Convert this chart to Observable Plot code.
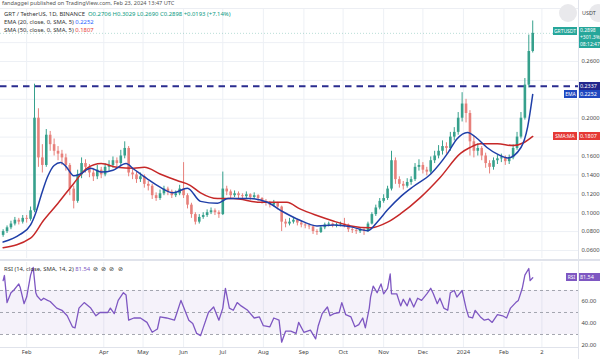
<!DOCTYPE html>
<html><head><meta charset="utf-8">
<script src="https://cdn.jsdelivr.net/npm/d3@7"></script>
<script src="https://cdn.jsdelivr.net/npm/@observablehq/plot@0.6"></script>
<style>
body{margin:0;background:#fff;font-family:"Noto Sans",sans-serif;}
#wrap{position:relative;width:600px;height:359px;overflow:hidden;background:#fff;}
#wrap svg{position:absolute;left:0;}
.t{position:absolute;white-space:nowrap;font-size:5.9px;color:#333;line-height:8px;}
.b{position:absolute;white-space:nowrap;overflow:hidden;font-size:5.4px;color:#fff;text-align:center;}
.ln{position:absolute;background:#e0e3eb;}
</style></head><body><div id="wrap"></div>
<script>
// ---- data (3-day candles starting 2023-01-14) ----
const startDate = "2023-01-14";
const stepDays = 3;
const firstOpen = 0.076;
const close = [0.080,0.084,0.088,0.092,0.090,0.094,0.093,0.102,0.200,0.158,
0.150,0.182,0.172,0.165,0.162,0.158,0.150,0.125,0.112,0.140,
0.152,0.148,0.142,0.138,0.145,0.140,0.148,0.150,0.155,0.152,
0.160,0.168,0.142,0.140,0.135,0.138,0.130,0.128,0.118,0.115,
0.120,0.125,0.122,0.118,0.120,0.125,0.118,0.108,0.098,0.090,
0.095,0.097,0.100,0.102,0.100,0.098,0.125,0.122,0.118,0.120,
0.118,0.117,0.119,0.116,0.118,0.115,0.112,0.110,0.108,0.110,
0.106,0.090,0.088,0.090,0.092,0.089,0.087,0.086,0.085,0.080,
0.079,0.084,0.087,0.088,0.086,0.087,0.088,0.087,0.082,0.081,
0.080,0.082,0.080,0.088,0.098,0.105,0.112,0.115,0.125,0.155,
0.135,0.130,0.128,0.132,0.135,0.148,0.150,0.145,0.143,0.155,
0.160,0.165,0.170,0.168,0.180,0.185,0.200,0.215,0.205,0.175,
0.165,0.168,0.160,0.152,0.148,0.155,0.157,0.158,0.154,0.158,
0.168,0.180,0.200,0.235,0.2706,0.2898];
const high = [0.082,0.086,0.091,0.095,0.094,0.097,0.097,0.106,0.236,0.210,
0.172,0.188,0.186,0.178,0.170,0.166,0.162,0.152,0.128,0.145,
0.158,0.156,0.151,0.146,0.150,0.148,0.152,0.155,0.159,0.158,
0.166,0.175,0.170,0.146,0.143,0.142,0.140,0.133,0.130,0.121,
0.124,0.128,0.127,0.124,0.123,0.129,0.153,0.120,0.110,0.100,
0.098,0.100,0.103,0.105,0.104,0.102,0.143,0.128,0.124,0.123,
0.122,0.120,0.122,0.120,0.121,0.119,0.116,0.114,0.112,0.113,
0.111,0.107,0.093,0.094,0.095,0.093,0.091,0.089,0.088,0.086,
0.082,0.086,0.089,0.090,0.089,0.089,0.090,0.094,0.088,0.084,
0.083,0.084,0.083,0.090,0.100,0.108,0.115,0.119,0.128,0.165,
0.158,0.138,0.133,0.136,0.138,0.152,0.156,0.153,0.148,0.159,
0.165,0.171,0.176,0.174,0.185,0.190,0.206,0.227,0.220,0.208,
0.181,0.173,0.170,0.163,0.155,0.158,0.161,0.162,0.160,0.161,
0.172,0.185,0.206,0.242,0.288,0.3029];
const low = [0.074,0.078,0.082,0.086,0.087,0.088,0.089,0.091,0.100,0.148,
0.142,0.148,0.165,0.160,0.155,0.150,0.144,0.118,0.104,0.110,
0.136,0.142,0.137,0.133,0.135,0.136,0.138,0.144,0.147,0.148,
0.150,0.157,0.138,0.135,0.131,0.132,0.126,0.123,0.114,0.112,
0.113,0.118,0.118,0.115,0.116,0.118,0.115,0.104,0.094,0.087,
0.088,0.093,0.095,0.098,0.097,0.094,0.097,0.118,0.115,0.116,
0.115,0.114,0.115,0.113,0.114,0.112,0.109,0.107,0.105,0.106,
0.103,0.080,0.084,0.086,0.088,0.086,0.084,0.083,0.082,0.077,
0.076,0.078,0.082,0.085,0.084,0.084,0.085,0.084,0.079,0.078,
0.077,0.078,0.076,0.079,0.087,0.096,0.103,0.110,0.113,0.123,
0.130,0.126,0.124,0.126,0.129,0.133,0.144,0.141,0.139,0.141,
0.152,0.157,0.161,0.162,0.165,0.176,0.182,0.196,0.195,0.160,
0.158,0.160,0.155,0.147,0.141,0.145,0.151,0.153,0.150,0.151,
0.156,0.166,0.178,0.198,0.232,0.2690];

// EMA 20 / SMA 50 (days since startDate)
const emaDays = [0,13,21,25,29,34,39,44,48,54,59,67,75,84,94,100,110,120,130,141,151,164,172,189,202,214,227,240,253,266,279,286,294,304,314,327,340,347,355,363,370,378,386,396,401,405];
const emaValues = [0.069,0.077,0.087,0.100,0.118,0.138,0.150,0.153,0.149,0.139,0.141,0.147,0.143,0.145,0.152,0.146,0.136,0.127,0.121,0.126,0.112,0.110,0.115,0.115,0.111,0.101,0.092,0.086,0.087,0.085,0.081,0.090,0.103,0.117,0.128,0.141,0.163,0.178,0.185,0.178,0.169,0.162,0.158,0.169,0.190,0.2252];
const smaDays = [0,21,31,42,54,64,75,87,100,108,120,133,143,151,164,176,197,217,227,240,253,266,281,294,304,319,334,350,357,365,378,390,398,405];
const smaValues = [0.063,0.073,0.092,0.110,0.131,0.147,0.152,0.148,0.147,0.148,0.141,0.134,0.129,0.121,0.115,0.115,0.111,0.111,0.104,0.097,0.091,0.086,0.084,0.090,0.099,0.116,0.137,0.163,0.169,0.173,0.173,0.171,0.174,0.1807];

// RSI 14
const rsiDays = [0,1,3,6,8,12,13,16,18,21,23,25,26,29,31,34,36,41,45,49,53,55,58,62,67,71,74,80,82,85,88,92,94,96,100,105,110,114,118,120,125,131,133,136,138,142,145,148,151,153,157,161,165,168,170,173,176,179,182,187,192,196,199,204,207,211,213,216,220,224,226,230,235,239,241,244,248,250,253,257,259,262,266,269,272,275,277,280,281,283,286,289,291,294,296,297,301,304,306,309,311,314,317,320,324,327,329,332,334,337,340,342,345,347,351,354,356,359,361,365,368,371,374,378,382,385,388,392,394,397,399,402,403,405];
const rsiValues = [79,83.6,59,68,70,76,73,58,64,84,91,68,65,61,63,61,60,54,52,47,37,36,54,59,54,47,50,50,54,49,61,68,66,43,45,45,41,32,35,46,45,43,50,61,55,43,40,31,29,36,50,55,43,54,72,54,52,59,56,52,45,46,38,37,45,43,23,33,33,31,41,32,34,26,38,49,55,47,49,50,59,48,46,37,39,45,36,54,64,74,68,76,67,72,85,67,67,56,62,56,63,55,63,61,67,72,67,58,63,54,52,68,70,64,70,54,46,45,52,46,43,44,41,48,47,45,54,59,61,72,84,90,79,81.54];

const resistance = 0.2337;
const priceGrid = [0.06,0.08,0.10,0.12,0.14,0.16,0.18,0.20,0.22,0.24,0.26,0.28];
const priceLabels = [0.06,0.08,0.10,0.12,0.14,0.16,0.20,0.26];
const rsiLabels = [20,40,60];
const rsiBands = [70,50,30];
const monthTicks = ["2023-02-01","2023-04-01","2023-05-01","2023-06-01","2023-07-01","2023-08-01","2023-09-01","2023-10-01","2023-11-01","2023-12-01","2024-01-01","2024-02-01","2024-03-01"];
const monthLabels = ["Feb","Apr","May","Jun","Jul","Aug","Sep","Oct","Nov","Dec","2024","Feb","2"];
const xRange = ["2023-01-12","2024-03-29"];

// ---- build ----
const DAY = 864e5;
const t0 = new Date(startDate);
const toDate = d => new Date(+t0 + d * DAY);
const candles = close.map((c, i) => ({date: toDate(i * stepDays), open: i ? close[i-1] : firstOpen, close: c, high: high[i], low: low[i]}));
const ema = emaDays.map((d, i) => ({date: toDate(d), value: emaValues[i]}));
const sma = smaDays.map((d, i) => ({date: toDate(d), value: smaValues[i]}));
const rsi = rsiDays.map((d, i) => ({date: toDate(d), value: rsiValues[i]}));
const months = monthTicks.map(s => new Date(s));
const labelOf = new Map(months.map((d, i) => [+d, monthLabels[i]]));
const xDomain = xRange.map(s => new Date(s));
const UP = "#36a08c", DOWN = "#e7807b";
const col = d => d.close >= d.open ? UP : DOWN;
const font = {fontFamily: "Noto Sans, sans-serif", fontSize: "5.8px", color: "#444", background: "transparent", overflow: "visible"};

const price = Plot.plot({
  width: 600, height: 258, marginLeft: 0, marginRight: 22, marginTop: 8, marginBottom: 0,
  x: {type: "utc", domain: xDomain, axis: null},
  y: {domain: [0.05153, 0.3161], axis: null},
  style: font,
  marks: [
    Plot.gridY(priceGrid, {stroke: "#edf0f5", strokeOpacity: 1}),
    Plot.gridX(months, {stroke: "#edf0f5", strokeOpacity: 1}),
    Plot.axisY(priceLabels, {anchor: "right", tickSize: 0, tickPadding: 3, tickFormat: d => d.toFixed(4)}),
    Plot.ruleY([close[close.length - 1]], {stroke: "#36a08c", strokeOpacity: 0.35, strokeDasharray: "1,2"}),
    Plot.ruleY([resistance], {stroke: "#2a2c8f", strokeWidth: 2, strokeDasharray: "6.5,5"}),
    Plot.ruleX(candles, {x: "date", y1: "low", y2: "high", stroke: col, strokeWidth: 1}),
    Plot.ruleX(candles, {x: "date", y1: "open", y2: "close", stroke: col, strokeWidth: 2.6}),
    Plot.line(sma, {x: "date", y: "value", stroke: "#c62828", strokeWidth: 1.5, curve: "monotone-x"}),
    Plot.line(ema, {x: "date", y: "value", stroke: "#1f3fa8", strokeWidth: 1.5, curve: "monotone-x"})
  ]
});

const rsiPlot = Plot.plot({
  width: 600, height: 101, marginLeft: 0, marginRight: 22, marginTop: 4, marginBottom: 12,
  x: {type: "utc", domain: xDomain},
  y: {domain: [18.18, 95.45], axis: null},
  style: font,
  marks: [
    Plot.gridX(months, {stroke: "#edf0f5", strokeOpacity: 1}),
    Plot.rect([{lo: 30, hi: 70}], {x1: () => xDomain[0], x2: () => xDomain[1], y1: "lo", y2: "hi", fill: "#7e57c2", fillOpacity: 0.08}),
    Plot.ruleY(rsiBands, {stroke: "#9a9ca6", strokeDasharray: "3,3", strokeWidth: 0.9}),
    Plot.line(rsi, {x: "date", y: "value", stroke: "#7e57c2", strokeWidth: 1.3}),
    Plot.axisY(rsiLabels, {anchor: "right", tickSize: 0, tickPadding: 3, tickFormat: d => d.toFixed(2)}),
    Plot.axisX(months, {tickSize: 0, tickPadding: 2, tickFormat: d => labelOf.get(+d)})
  ]
});

const wrap = document.getElementById("wrap");
price.style.top = "0px";
rsiPlot.style.top = "258px";
wrap.appendChild(price);
wrap.appendChild(rsiPlot);

function el(cls, html, css) {
  const d = document.createElement("div");
  d.className = cls; d.innerHTML = html;
  Object.assign(d.style, css);
  wrap.appendChild(d); return d;
}
// separators
el("ln", "", {left: "578px", top: "0px", width: "1px", height: "359px"});
el("ln", "", {left: "0px", top: "8px", width: "578px", height: "1px", background: "#eceef3"});
el("ln", "", {left: "0px", top: "259px", width: "600px", height: "2px"});
el("ln", "", {left: "0px", top: "347px", width: "578px", height: "1px"});

// header / legends
el("t", "fandaggei published on TradingView.com, Feb 23, 2024 13:47 UTC", {left: "2px", top: "0px", fontSize: "5.6px", lineHeight: "6px", color: "#555"});
const g = "#089981";
el("t", `GRT / TetherUS, 1D, BINANCE&nbsp; <span style="color:${g}">O0.2706</span> <span style="color:${g}">H0.3029</span> <span style="color:${g}">L0.2690</span> <span style="color:${g}">C0.2898</span> <span style="color:${g}">+0.0193 (+7.14%)</span>`, {left: "4px", top: "10px"});
el("t", `EMA (20, close, 0, SMA, 5) <span style="color:#2962ff">${emaValues[emaValues.length-1]}</span>`, {left: "4px", top: "18px"});
el("t", `SMA (50, close, 0, SMA, 5) <span style="color:#e53935">${smaValues[smaValues.length-1]}</span>`, {left: "4px", top: "26px"});
el("t", `RSI (14, close, SMA, 14, 2) <span style="color:#7e57c2">${rsiValues[rsiValues.length-1]}</span> &nbsp;⊘ &nbsp;⊘ &nbsp;⊘ &nbsp;⊘`, {left: "4px", top: "265px"});

// top-right buttons
el("b", "", {left: "559px", top: "4px", width: "18px", height: "18px", borderRadius: "50%", background: "#e9e9ec"});
el("b", "", {left: "589px", top: "4px", width: "18px", height: "18px", borderRadius: "50%", background: "#e9e9ec"});
el("t", "USDT", {left: "582px", top: "9px", fontSize: "5.4px", color: "#444"});

// right-hand value tags
const yP = v => price.scale("y").apply(v);
const yR = v => 258 + rsiPlot.scale("y").apply(v);
const last = close[close.length - 1];
const yc = yP(last);
const box = {width: "21px", height: "8px", lineHeight: "8px", textAlign: "left", paddingLeft: "1px"};
el("b", "GRTUSDT", {left: "553px", top: (yc - 6) + "px", width: "24px", height: "8px", lineHeight: "8px", background: "#26a69a", fontSize: "5px"});
el("b", `${last.toFixed(4)}<br>+301.3%<br>08:12:47`, {left: "579px", top: (yc - 6) + "px", width: "21px", height: "21px", lineHeight: "7px", background: "#26a69a", textAlign: "left", paddingLeft: "1px", fontSize: "5px"});
el("b", resistance.toFixed(4), {...box, left: "579px", top: (yP(resistance) - 4) + "px", background: "#23278c"});
const emaLast = emaValues[emaValues.length - 1];
el("b", "EMA", {left: "564px", top: (yP(emaLast) - 4) + "px", width: "13px", height: "8px", lineHeight: "8px", background: "#1f48c0", fontSize: "5px"});
el("b", emaLast.toFixed(4), {...box, left: "579px", top: (yP(emaLast) - 4) + "px", background: "#1f48c0"});
const smaLast = smaValues[smaValues.length - 1];
el("b", "SMA:MA", {left: "553px", top: (yP(smaLast) - 4) + "px", width: "24px", height: "8px", lineHeight: "8px", background: "#e53935", fontSize: "5px"});
el("b", smaLast.toFixed(4), {...box, left: "579px", top: (yP(smaLast) - 4) + "px", background: "#e53935"});
const rsiLast = rsiValues[rsiValues.length - 1];
el("b", "RSI", {left: "566px", top: (yR(rsiLast) - 4) + "px", width: "11px", height: "8px", lineHeight: "8px", background: "#7e57c2", fontSize: "5px"});
el("b", rsiLast.toFixed(2), {...box, left: "579px", top: (yR(rsiLast) - 4) + "px", background: "#7e57c2"});
</script>
</body></html>
